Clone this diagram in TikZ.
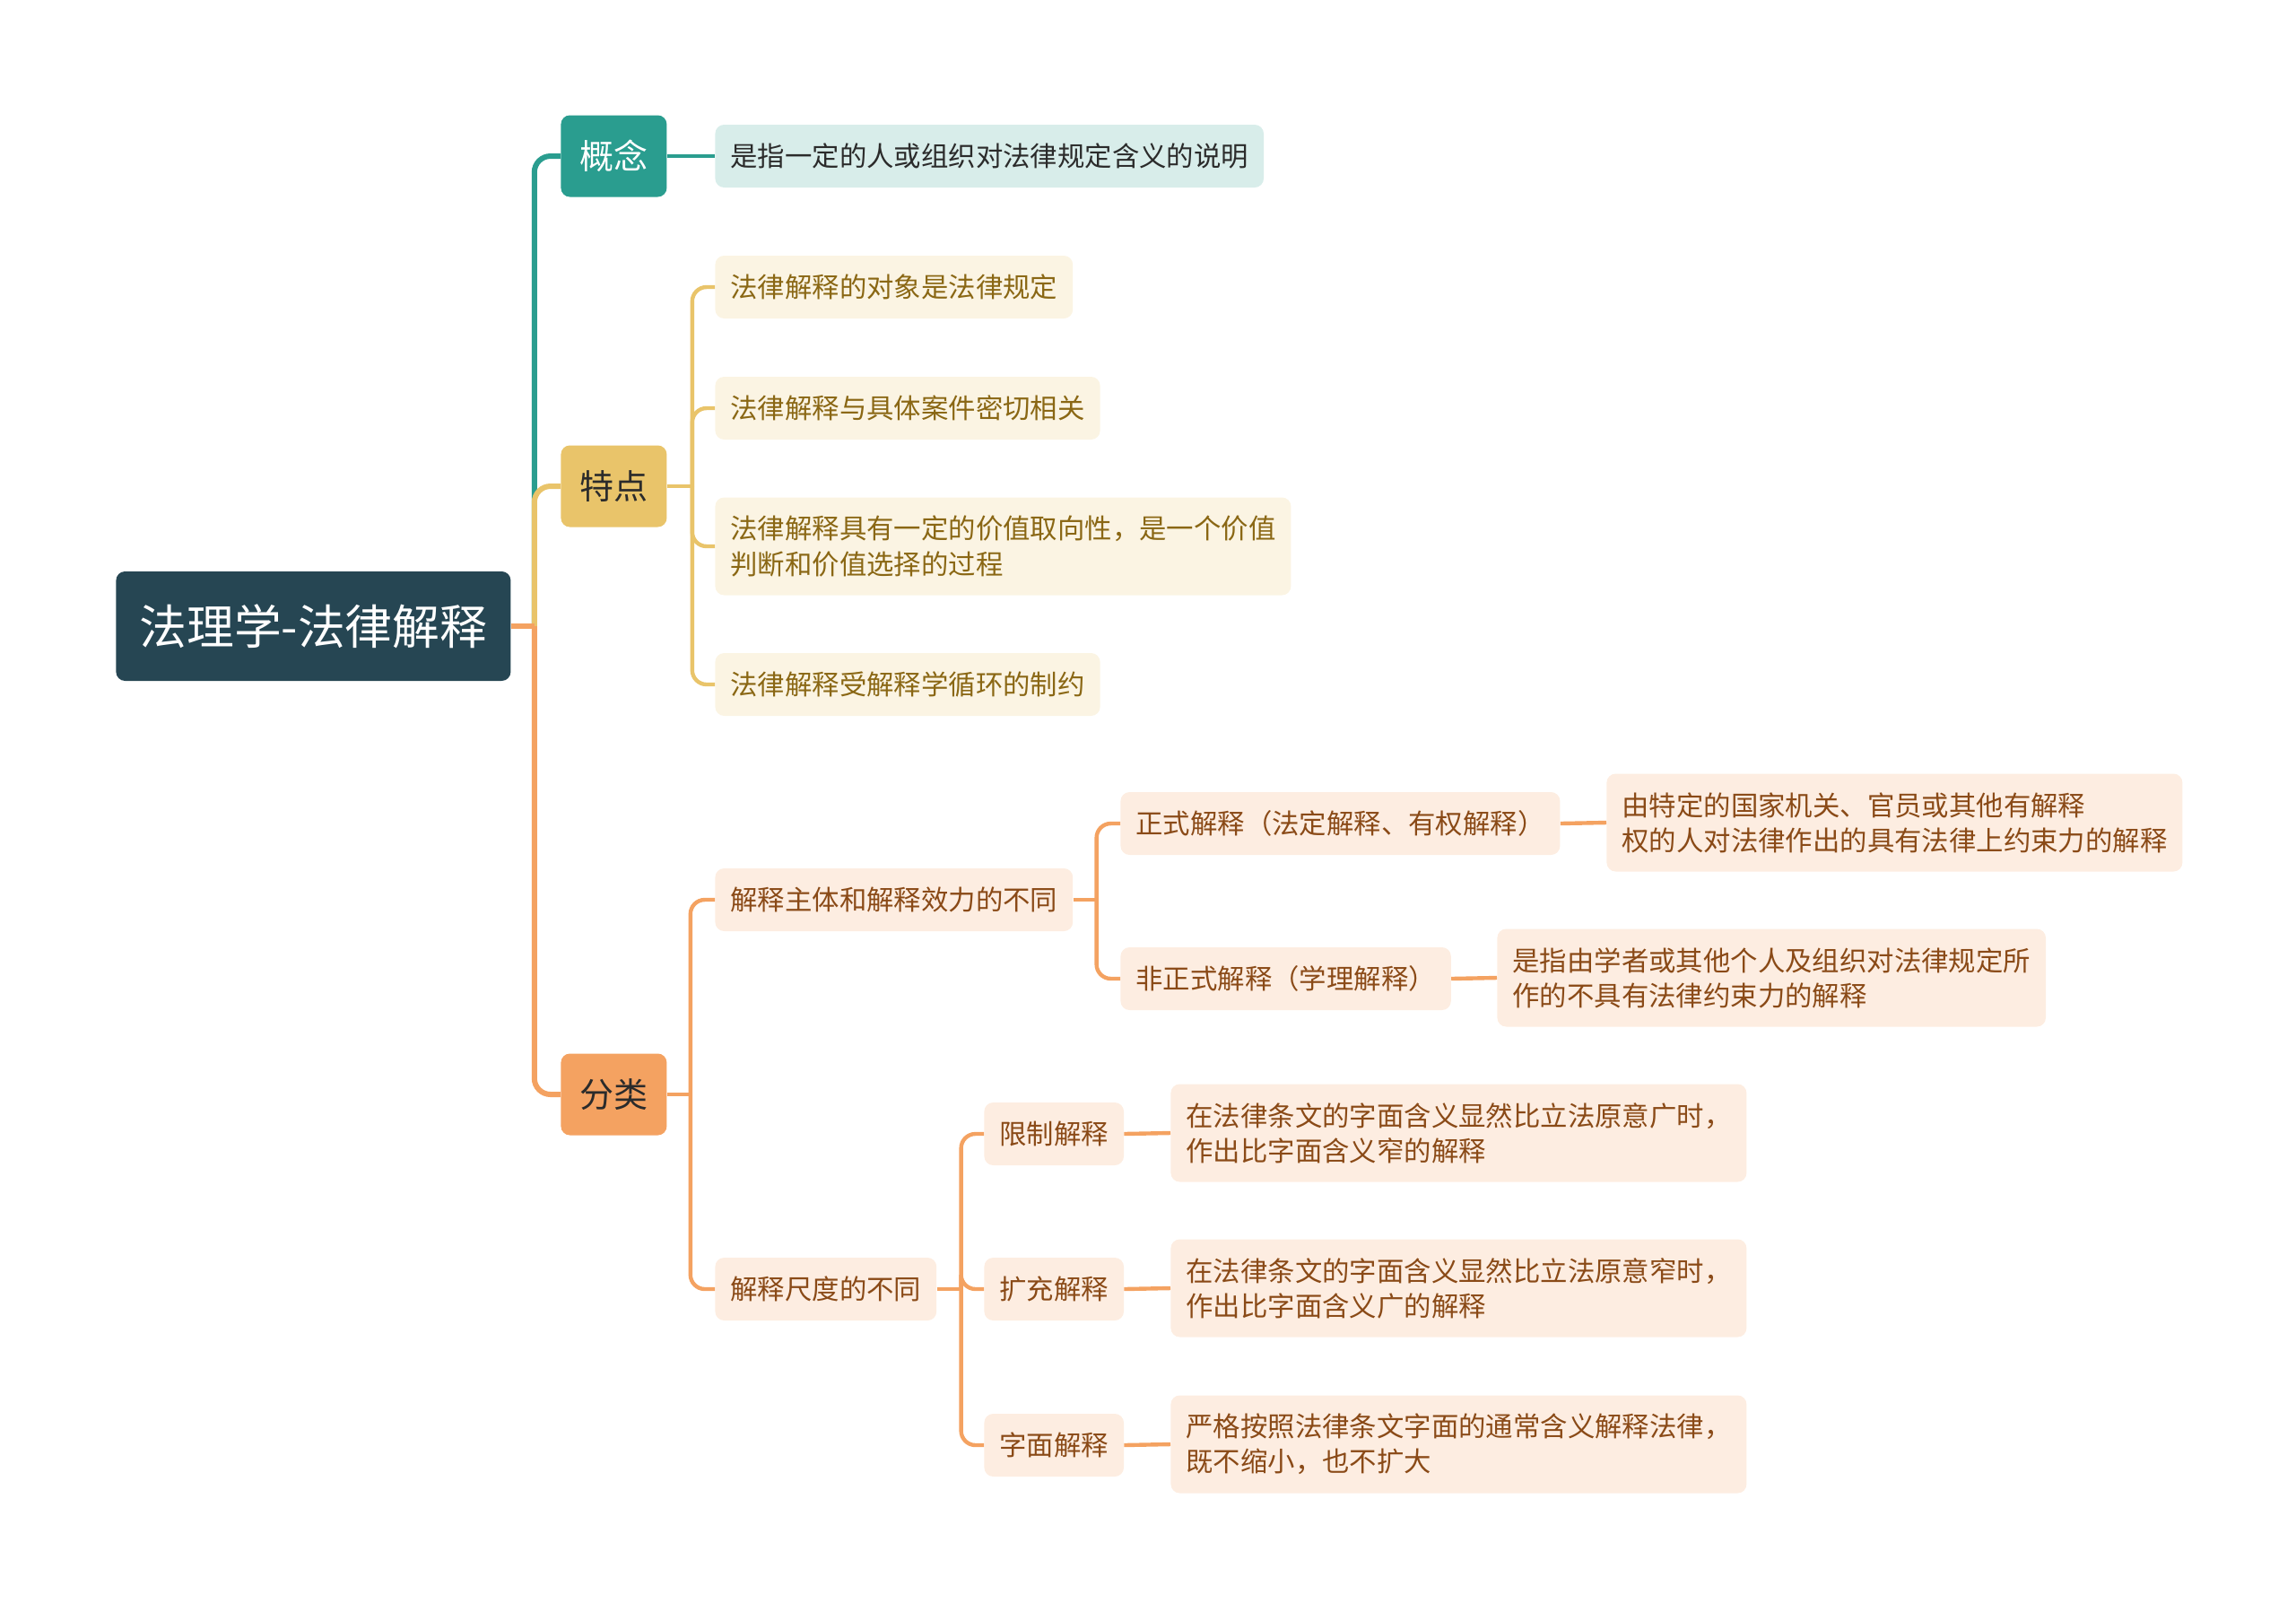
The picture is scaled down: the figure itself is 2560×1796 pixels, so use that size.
\documentclass[tikz,border=0pt]{standalone}
\usepackage{fontspec}
\setmainfont{Noto Sans CJK SC}
\usetikzlibrary{positioning}

\definecolor{rootfill}{HTML}{264653}
\definecolor{tealc}{HTML}{2A9D8F}
\definecolor{yellowc}{HTML}{E9C46A}
\definecolor{orangec}{HTML}{F4A261}
\definecolor{tealleaf}{HTML}{D8EDEA}
\definecolor{yellowleaf}{HTML}{FBF4E3}
\definecolor{orangeleaf}{HTML}{FDEDE1}
\definecolor{yellowtext}{HTML}{8A6714}
\definecolor{orangetext}{HTML}{8A4A17}
\definecolor{darktext}{HTML}{2B2B2B}

\begin{document}
\begin{tikzpicture}[
    x=0.5pt, y=-0.5pt,
    every node/.style={anchor=west, rounded corners=5pt, align=left, inner xsep=8.5pt},
    rootbox/.style={fill=rootfill, text=white, minimum width=220pt, minimum height=61pt,
        align=center, font=\fontsize{26.4pt}{30pt}\selectfont},
    topic/.style={minimum width=59pt, minimum height=45.5pt, inner xsep=0pt, align=center,
        font=\fontsize{19pt}{22pt}\selectfont},
    leaf/.style={minimum height=35pt, font=\fontsize{15.2pt}{19.6pt}\selectfont},
    twoline/.style={leaf, minimum height=54.5pt},
    tleaf/.style={leaf, fill=tealleaf, text=darktext},
    yleaf/.style={leaf, fill=yellowleaf, text=yellowtext},
    oleaf/.style={leaf, fill=orangeleaf, text=orangetext},
    trunk/.style={line width=3pt, rounded corners=9pt},
    link/.style={line width=2.2pt, rounded corners=8pt}
]
    \useasboundingbox (0,0) rectangle (2560,1796);

    % root and main topics
    \node[rootbox] (root) at (129,698) {法理学-法律解释};
    \node[topic, fill=tealc, text=white] (gn) at (625,174) {概念};
    \node[topic, fill=yellowc, text=darktext] (td) at (625,542) {特点};
    \node[topic, fill=orangec, text=darktext] (fl) at (625,1220) {分类};

    % 概念
    \node[tleaf] (gn1) at (797,174) {是指一定的人或组织对法律规定含义的说明};

    % 特点
    \node[yleaf] (td1) at (797,320) {法律解释的对象是法律规定};
    \node[yleaf] (td2) at (797,455) {法律解释与具体案件密切相关};
    \node[yleaf, twoline] (td3) at (797,609) {法律解释具有一定的价值取向性，是一个价值\\判断和价值选择的过程};
    \node[yleaf] (td4) at (797,763) {法律解释受解释学循环的制约};

    % 分类
    \node[oleaf] (fl1) at (797,1003) {解释主体和解释效力的不同};
    \node[oleaf] (fl11) at (1249,918) {正式解释（法定解释、有权解释）};
    \node[oleaf, twoline] (fl11a) at (1791,917) {由特定的国家机关、官员或其他有解释\\权的人对法律作出的具有法律上约束力的解释};
    \node[oleaf] (fl12) at (1249,1091) {非正式解释（学理解释）};
    \node[oleaf, twoline] (fl12a) at (1669,1090) {是指由学者或其他个人及组织对法律规定所\\作的不具有法律约束力的解释};

    \node[oleaf] (fl2) at (797,1437) {解释尺度的不同};
    \node[oleaf] (fl21) at (1097,1264) {限制解释};
    \node[oleaf, twoline] (fl21a) at (1305,1263) {在法律条文的字面含义显然比立法原意广时，\\作出比字面含义窄的解释};
    \node[oleaf] (fl22) at (1097,1437) {扩充解释};
    \node[oleaf, twoline] (fl22a) at (1305,1436) {在法律条文的字面含义显然比立法原意窄时，\\作出比字面含义广的解释};
    \node[oleaf] (fl23) at (1097,1611) {字面解释};
    \node[oleaf, twoline] (fl23a) at (1305,1610) {严格按照法律条文字面的通常含义解释法律，\\既不缩小，也不扩大};

    % junction points
    \coordinate (rj) at ([xshift=13pt]root.east);
    \coordinate (tdj) at ([xshift=14pt]td.east);
    \coordinate (flj) at ([xshift=13pt]fl.east);
    \coordinate (fl1j) at ([xshift=13pt]fl1.east);
    \coordinate (fl2j) at ([xshift=13.5pt]fl2.east);

    % connectors
    \draw[trunk, tealc] (rj) |- (gn.west);
    \draw[trunk, yellowc] (rj) |- (td.west);
    \draw[trunk, orangec] (rj) |- (fl.west);
    \draw[trunk, orangec] (root.east) -- (rj);

    \draw[link, tealc] (gn.east) -- (gn1.west);

    \draw[link, yellowc] (td.east) -- (tdj);
    \foreach \c in {td1,td2,td3,td4}
        \draw[link, yellowc] (tdj) |- (\c.west);

    \draw[link, orangec] (fl.east) -- (flj);
    \foreach \c in {fl1,fl2}
        \draw[link, orangec] (flj) |- (\c.west);

    \draw[link, orangec] (fl1.east) -- (fl1j);
    \foreach \c in {fl11,fl12}
        \draw[link, orangec] (fl1j) |- (\c.west);
    \draw[link, orangec] (fl11.east) -- (fl11a.west);
    \draw[link, orangec] (fl12.east) -- (fl12a.west);

    \draw[link, orangec] (fl2.east) -- (fl2j);
    \foreach \c in {fl21,fl22,fl23}
        \draw[link, orangec] (fl2j) |- (\c.west);
    \draw[link, orangec] (fl21.east) -- (fl21a.west);
    \draw[link, orangec] (fl22.east) -- (fl22a.west);
    \draw[link, orangec] (fl23.east) -- (fl23a.west);
\end{tikzpicture}
\end{document}
